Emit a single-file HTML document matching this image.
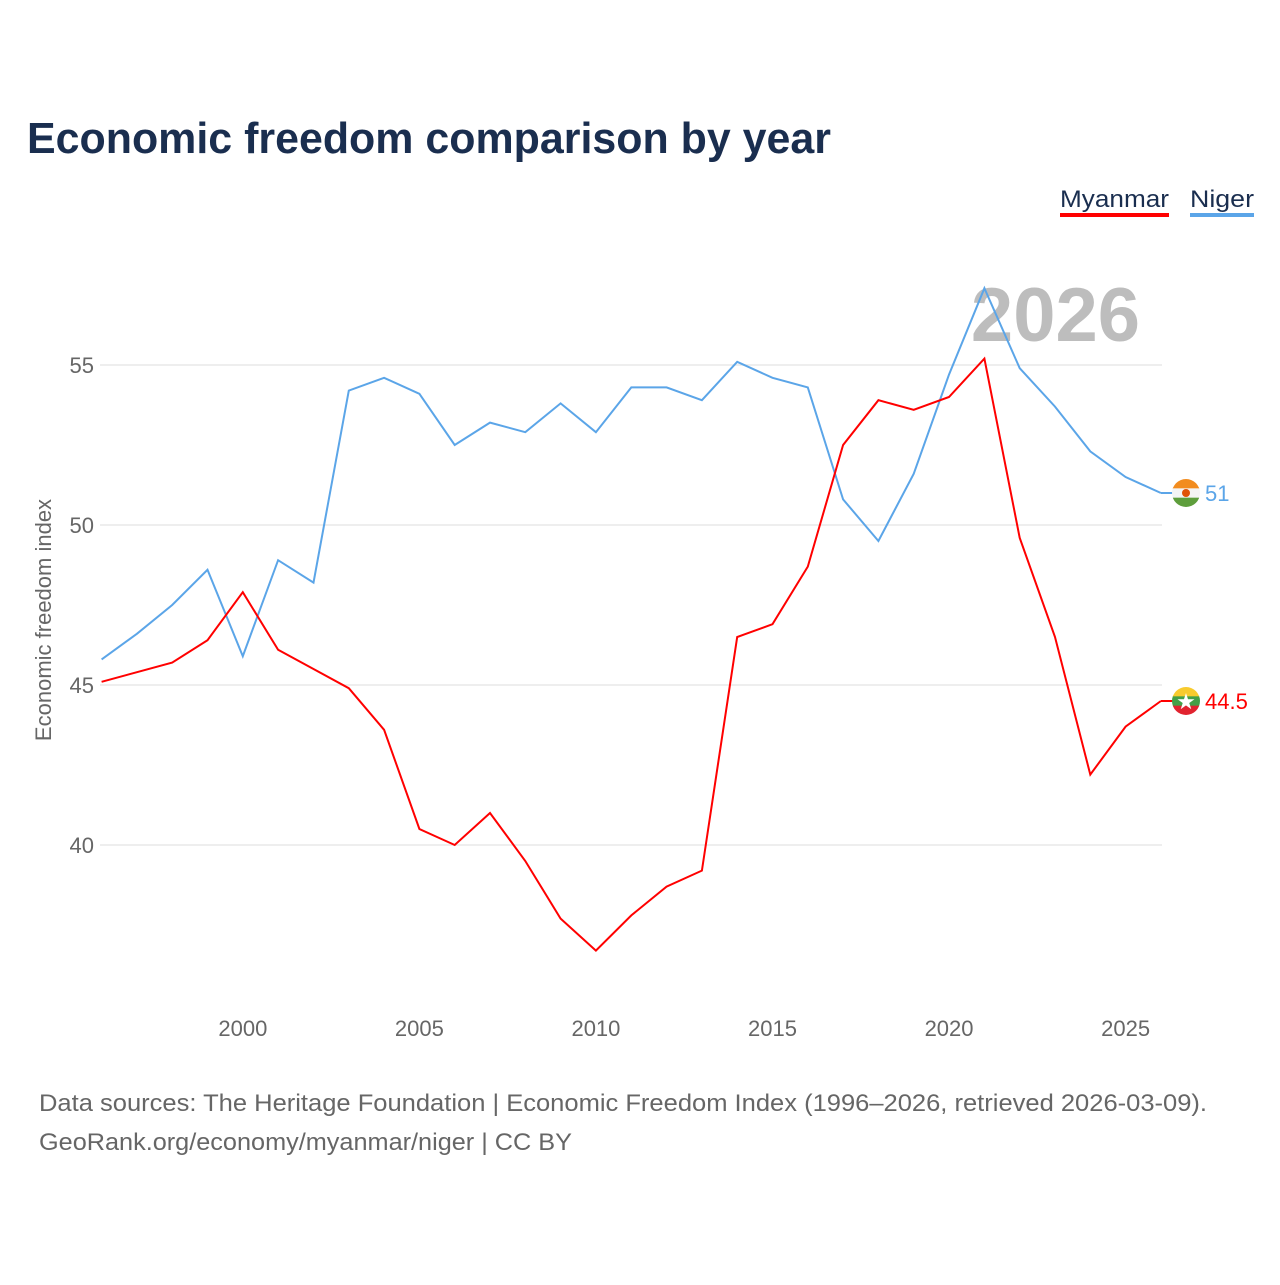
<!DOCTYPE html>
<html><head><meta charset="utf-8">
<style>
body{margin:0;background:#fff;font-family:"Liberation Sans",sans-serif;}
svg text{font-family:"Liberation Sans",sans-serif;}
</style></head>
<body>
<svg width="1280" height="1280" viewBox="0 0 1280 1280" id="chart">
<rect width="1280" height="1280" fill="#fff"/>
<text x="27" y="153" font-size="44" font-weight="bold" fill="#1a2e4f" textLength="804" lengthAdjust="spacingAndGlyphs">Economic freedom comparison by year</text>
<g>
<text x="1060" y="207" font-size="24" fill="#1a2e4f" textLength="109" lengthAdjust="spacingAndGlyphs">Myanmar</text>
<rect x="1060" y="213" width="109" height="4" fill="#ff0000"/>
<text x="1190" y="207" font-size="24" fill="#1a2e4f" textLength="64" lengthAdjust="spacingAndGlyphs">Niger</text>
<rect x="1190" y="213" width="64" height="4" fill="#5ba5e8"/>
</g>
<text x="1140" y="341" font-size="76" font-weight="bold" fill="#bdbdbd" text-anchor="end">2026</text>
<g id="grid"></g>
<g id="xaxis"></g>
<text transform="translate(51,620) rotate(-90)" font-size="22" fill="#666" text-anchor="middle">Economic freedom index</text>
<g id="series"></g>
<g id="ends"></g>
<text x="39" y="1111" font-size="24" fill="#666" textLength="1168" lengthAdjust="spacingAndGlyphs">Data sources: The Heritage Foundation | Economic Freedom Index (1996–2026, retrieved 2026-03-09).</text>
<text x="39" y="1150" font-size="24" fill="#666" textLength="533" lengthAdjust="spacingAndGlyphs">GeoRank.org/economy/myanmar/niger | CC BY</text>
</svg>
<script>
const years=[1996,1997,1998,1999,2000,2001,2002,2003,2004,2005,2006,2007,2008,2009,2010,2011,2012,2013,2014,2015,2016,2017,2018,2019,2020,2021,2022,2023,2024,2025,2026];
const myanmar=[45.1,45.4,45.7,46.4,47.9,46.1,45.5,44.9,43.6,40.5,40.0,41.0,39.5,37.7,36.7,37.8,38.7,39.2,46.5,46.9,48.7,52.5,53.9,53.6,54.0,55.2,49.6,46.5,42.2,43.7,44.5];
const niger=[45.8,46.6,47.5,48.6,45.9,48.9,48.2,54.2,54.6,54.1,52.5,53.2,52.9,53.8,52.9,54.3,54.3,53.9,55.1,54.6,54.3,50.8,49.5,51.6,54.7,57.4,54.9,53.7,52.3,51.5,51.0];
const yTicks=[40,45,50,55];
const xTicks=[2000,2005,2010,2015,2020,2025];
const NS="http://www.w3.org/2000/svg";
function X(yr){return 101.6+(yr-1996)*35.31;}
function Y(v){return 525-(v-50)*32;}
function mk(tag,attrs,parent){const e=document.createElementNS(NS,tag);for(const k in attrs)e.setAttribute(k,attrs[k]);parent.appendChild(e);return e;}
const grid=document.getElementById('grid');
yTicks.forEach(t=>{
 const l=mk('line',{x1:100,x2:1162,y1:Y(t),y2:Y(t),stroke:'#e8e8e8','stroke-width':1.5},grid);
 
 
 const tx=mk('text',{x:94,y:Y(t)+8,'font-size':22,fill:'#666','text-anchor':'end'},grid);
 tx.textContent=t;
 
 
});
const xa=document.getElementById('xaxis');
xTicks.forEach(t=>{
 const tx=mk('text',{x:X(t),y:1036,'font-size':22,fill:'#666','text-anchor':'middle'},xa);
 tx.textContent=t;
 
 
});
const sg=document.getElementById('series');
function line(vals,color,name){
 const d=vals.map((v,i)=>(i?'L':'M')+X(years[i]).toFixed(1)+','+Y(v).toFixed(1)).join(' ');
 const p=mk('path',{d:d,fill:'none',stroke:color,'stroke-width':2},sg);
 
 
}
line(niger,'#5ba5e8','niger-line');
line(myanmar,'#ff0000','myanmar-line');
const eg=document.getElementById('ends');
function endMark(vals,color,name,stripes,label){
 const v=vals[vals.length-1], x0=X(years[years.length-1]), y=Y(v), cx=1186;
 mk('line',{x1:x0,x2:cx,y1:y,y2:y,stroke:color,'stroke-width':2},eg);
 const g=mk('g',{},eg);
 
 
 const cp=mk('clipPath',{id:'cp-'+name},g);
 mk('circle',{cx:cx,cy:y,r:14},cp);
 stripes.forEach((c,i)=>mk('rect',{x:cx-14,y:y-14+i*28/3,width:28,height:28/3+0.5,fill:c,'clip-path':'url(#cp-'+name+')'},g));
 if(name==='niger') mk('circle',{cx:cx,cy:y,r:4,fill:'#e05206'},g);
 else { const t=mk('text',{x:cx,y:y+8,'font-size':22,fill:'#fff','text-anchor':'middle'},g); t.textContent='★'; }
 const tx=mk('text',{x:1205,y:y+8,'font-size':22,fill:color},eg);
 tx.textContent=label;
 
 
}
endMark(niger,'#5ba5e8','niger',['#f28c1e','#f4f4f4','#5e9e3c'],String(niger[niger.length-1]));
endMark(myanmar,'#ff0000','myanmar',['#f8cb2e','#43a047','#e1232f'],String(myanmar[myanmar.length-1]));
</script>
</body></html>
